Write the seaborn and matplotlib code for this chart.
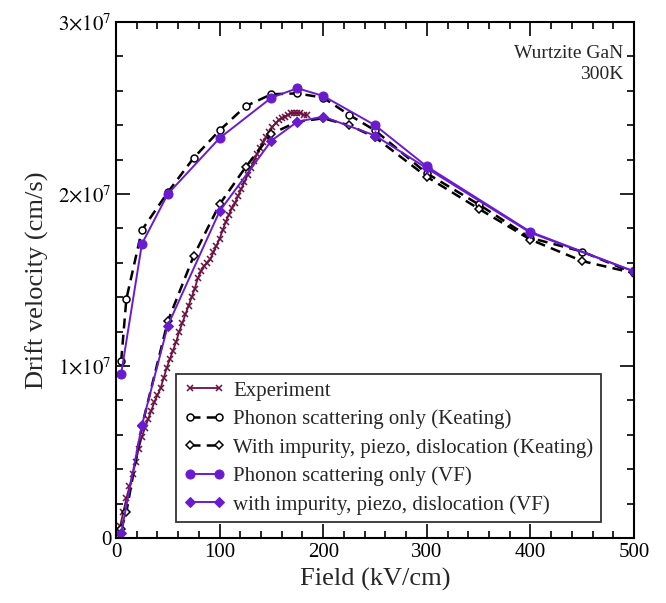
import numpy as np
import pandas as pd
import matplotlib
matplotlib.use("Agg")
import matplotlib.pyplot as plt
import seaborn as sns
from matplotlib.ticker import MultipleLocator, FixedLocator, FixedFormatter

# ---------------- data (values in 1e7 cm/s) ----------------
exp_x = [1, 4, 7, 10, 13, 16, 19, 22, 25, 28, 31, 34, 37, 40, 43, 46, 49, 52, 55, 58,
         61, 64, 67, 70, 73, 76, 79, 82, 85, 88, 91, 94, 97, 100, 103, 106, 109, 112,
         115, 118, 121, 124, 127, 130, 133, 136, 139, 142, 145, 148, 151, 154, 157,
         160, 163, 166, 169, 172, 175, 178, 181, 184]
exp_y = [0.02, 0.07, 0.15, 0.23, 0.30, 0.37, 0.44, 0.52, 0.59, 0.64, 0.69, 0.74, 0.79,
         0.83, 0.87, 0.93, 0.99, 1.04, 1.09, 1.14, 1.20, 1.25, 1.30, 1.35, 1.40, 1.45,
         1.51, 1.55, 1.58, 1.60, 1.62, 1.66, 1.70, 1.74, 1.79, 1.84, 1.88, 1.92, 1.95,
         1.99, 2.03, 2.07, 2.11, 2.15, 2.19, 2.23, 2.27, 2.30, 2.33, 2.36, 2.39, 2.41,
         2.43, 2.44, 2.45, 2.46, 2.47, 2.47, 2.47, 2.47, 2.46, 2.46]

keat_ph_x = [5, 10, 25, 50, 75, 100, 125, 150, 175, 200, 225, 250, 300, 350, 400, 450, 500]
keat_ph_y = [1.03, 1.39, 1.79, 2.01, 2.21, 2.37, 2.51, 2.58, 2.585, 2.56, 2.46, 2.37,
             2.12, 1.94, 1.745, 1.665, 1.54]

keat_imp_x = [5, 10, 25, 50, 75, 100, 125, 150, 175, 200, 225, 250, 300, 350, 400, 450, 500]
keat_imp_y = [0.05, 0.15, 0.65, 1.26, 1.64, 1.94, 2.155, 2.35, 2.42, 2.44, 2.40, 2.33,
              2.10, 1.915, 1.735, 1.61, 1.54]

vf_ph_x = [5, 25, 50, 100, 150, 175, 200, 250, 300, 400, 500]
vf_ph_y = [0.955, 1.71, 2.00, 2.325, 2.56, 2.615, 2.57, 2.40, 2.16, 1.78, 1.55]

vf_imp_x = [5, 25, 50, 100, 150, 175, 200, 250, 300, 400, 500]
vf_imp_y = [0.03, 0.655, 1.235, 1.90, 2.31, 2.42, 2.45, 2.34, 2.15, 1.775, 1.55]

labels = ["Experiment",
          "Phonon scattering only (Keating)",
          "With impurity, piezo, dislocation (Keating)",
          "Phonon scattering only (VF)",
          "with impurity, piezo, dislocation (VF)"]

y_ticks = [0, 1, 2, 3]
y_ticklabels = ["0", r"$1{\times}10^{7}$", r"$2{\times}10^{7}$", r"$3{\times}10^{7}$"]
x_ticks = [0, 100, 200, 300, 400, 500]

# ---------------- style ----------------
sns.set_style("ticks")
plt.rcParams["font.family"] = ["Liberation Serif", "DejaVu Serif"]
plt.rcParams["mathtext.fontset"] = "stix"

purple = "#6a1bd0"
maroon = "#6e1040"

fig = plt.figure(figsize=(6.66, 6.03), dpi=100)
ax = fig.add_axes([116 / 666, 1 - 538 / 603, (634 - 116) / 666, (538 - 22) / 603])

sns.lineplot(x=exp_x, y=exp_y, ax=ax, color=maroon, lw=1.3, marker="x",
             markersize=4.5, markeredgewidth=1.1, markeredgecolor=maroon, label=labels[0])
sns.lineplot(x=keat_ph_x, y=keat_ph_y, ax=ax, color="black", lw=1.8, linestyle=(0, (4, 2.5)),
             marker="o", markersize=5, markerfacecolor="white", markeredgecolor="black",
             markeredgewidth=1.1, label=labels[1])
sns.lineplot(x=keat_imp_x, y=keat_imp_y, ax=ax, color="black", lw=1.8, linestyle=(0, (4, 2.5)),
             marker="D", markersize=4.5, markerfacecolor="white", markeredgecolor="black",
             markeredgewidth=1.1, label=labels[2])
sns.lineplot(x=vf_ph_x, y=vf_ph_y, ax=ax, color=purple, lw=1.4,
             marker="o", markersize=6.5, markeredgecolor=purple, label=labels[3])
sns.lineplot(x=vf_imp_x, y=vf_imp_y, ax=ax, color=purple, lw=1.4,
             marker="D", markersize=5.5, markeredgecolor=purple, label=labels[4])

ax.set_xlim(0, 500)
ax.set_ylim(0, 3)
ax.xaxis.set_major_locator(FixedLocator(x_ticks))
ax.xaxis.set_minor_locator(MultipleLocator(20))
ax.yaxis.set_major_locator(FixedLocator(y_ticks))
ax.yaxis.set_major_formatter(FixedFormatter(y_ticklabels))
ax.yaxis.set_minor_locator(MultipleLocator(0.2))

ax.tick_params(which="both", direction="in", top=True, right=True, width=1.2,
               labelsize=15, colors="black")
ax.tick_params(which="major", length=10)
ax.tick_params(which="minor", length=5)
for s in ax.spines.values():
    s.set_linewidth(1.5)
    s.set_color("black")

ax.set_xlabel("Field (kV/cm)", fontsize=19, labelpad=4)
ax.set_ylabel("Drift velocity (cm/s)", fontsize=19, labelpad=6)

ax.text(0.98, 0.955, "Wurtzite GaN\n300K", transform=ax.transAxes, ha="right", va="top",
        fontsize=14, linespacing=1.3)

leg = ax.legend(loc="lower left", bbox_to_anchor=((176 - 116) / 518, (538 - 522) / 516),
                fontsize=15, frameon=True, fancybox=False, edgecolor="black",
                borderpad=0.35, handlelength=2.0, labelspacing=0.42, numpoints=2,
                handletextpad=0.4, borderaxespad=0)
leg.get_frame().set_linewidth(1.3)

fig.savefig("out.png", dpi=100)
